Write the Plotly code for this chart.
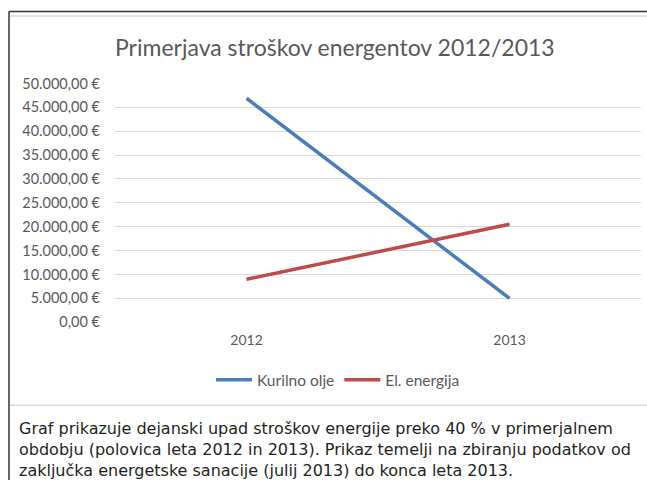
import plotly.graph_objects as go

years = ["2012", "2013"]
kurilno_olje = [46900, 5000]
el_energija = [9000, 20500]
series_names = ["Kurilno olje", "El. energija"]
tick_values = [0, 5000, 10000, 15000, 20000, 25000, 30000, 35000, 40000, 45000, 50000]
tick_labels = ["0,00 €", "5.000,00 €", "10.000,00 €", "15.000,00 €", "20.000,00 €",
               "25.000,00 €", "30.000,00 €", "35.000,00 €", "40.000,00 €",
               "45.000,00 €", "50.000,00 €"]
title_text = "Primerjava stroškov energentov 2012/2013"
caption_lines = [
    "Graf prikazuje dejanski upad stroškov energije preko 40 % v primerjalnem",
    "obdobju (polovica leta 2012 in 2013). Prikaz temelji na zbiranju podatkov od",
    "zaključka energetske sanacije (julij 2013) do konca leta 2013.",
]

W, H = 647, 488
CHART_FONT = "Lato, Carlito, Calibri, sans-serif"
GREY = "#595959"

# observed mapping of the rendered page: y_screen ~ 8.5 + 0.966 * y_layout
Y_OFF, Y_SCALE = 8.5, 0.966

def px(x):
    return x / W

def py(y):
    v = 1 - ((y - Y_OFF) / Y_SCALE) / H
    return min(1.0, max(0.0, v))

fig = go.Figure()
fig.add_trace(go.Scatter(x=years, y=kurilno_olje, name=series_names[0], mode="lines",
                         line=dict(color="#4A7EBB", width=3.5)))
fig.add_trace(go.Scatter(x=years, y=el_energija, name=series_names[1], mode="lines",
                         line=dict(color="#BE4B48", width=3.5)))

fig.update_layout(
    width=W, height=H, autosize=False,
    margin=dict(l=0, r=0, t=0, b=0),
    paper_bgcolor="white", plot_bgcolor="white",
    showlegend=True,
    legend=dict(orientation="h", x=px(338), xanchor="center", y=py(380), yanchor="middle",
                font=dict(family=CHART_FONT, size=15.5, color=GREY),
                itemwidth=36, tracegroupgap=0, bgcolor="rgba(0,0,0,0)"),
    xaxis=dict(type="category", domain=[px(115), px(641)], range=[-0.5, 1.5],
               showgrid=False, showline=False, zeroline=False, ticks="",
               tickfont=dict(family=CHART_FONT, size=14, color=GREY),
               anchor="y", ticklabelstandoff=8),
    yaxis=dict(domain=[py(322), py(83)], range=[0, 50000],
               tickvals=tick_values, ticktext=tick_labels,
               showgrid=True, gridcolor="#D9D9D9", gridwidth=1,
               zeroline=False, showline=False, ticks="",
               tickfont=dict(family=CHART_FONT, size=14.5, color=GREY),
               ticklabelstandoff=14),
)

# title
fig.add_annotation(text=title_text, xref="paper", yref="paper", x=px(335), y=py(47),
                   xanchor="center", yanchor="middle", showarrow=False,
                   font=dict(family=CHART_FONT, size=23, color=GREY))

# caption (one text block)
fig.add_annotation(text="<br>".join(caption_lines), xref="paper", yref="paper",
                   x=px(17), y=py(449), xanchor="left", yanchor="middle", align="left",
                   showarrow=False,
                   font=dict(family="DejaVu Sans, sans-serif", size=16, color="#231F20"))

# frames
shapes = [
    dict(type="line", xref="paper", yref="paper", x0=px(9), x1=1, y0=py(11), y1=py(11),
         line=dict(color="#333333", width=1.5)),
    dict(type="line", xref="paper", yref="paper", x0=px(9), x1=px(9), y0=py(11), y1=0,
         line=dict(color="#333333", width=1.5)),
    dict(type="line", xref="paper", yref="paper", x0=px(10), x1=1, y0=py(15.5), y1=py(15.5),
         line=dict(color="#D9D9D9", width=1.5)),
    dict(type="line", xref="paper", yref="paper", x0=px(10), x1=1, y0=py(405), y1=py(405),
         line=dict(color="#D9D9D9", width=1.5)),
]
fig.update_layout(shapes=shapes)

fig.write_html("out.html",
               config={"responsive": False, "displayModeBar": False},
               post_script="document.body.style.margin='0';document.body.style.padding='0';")
